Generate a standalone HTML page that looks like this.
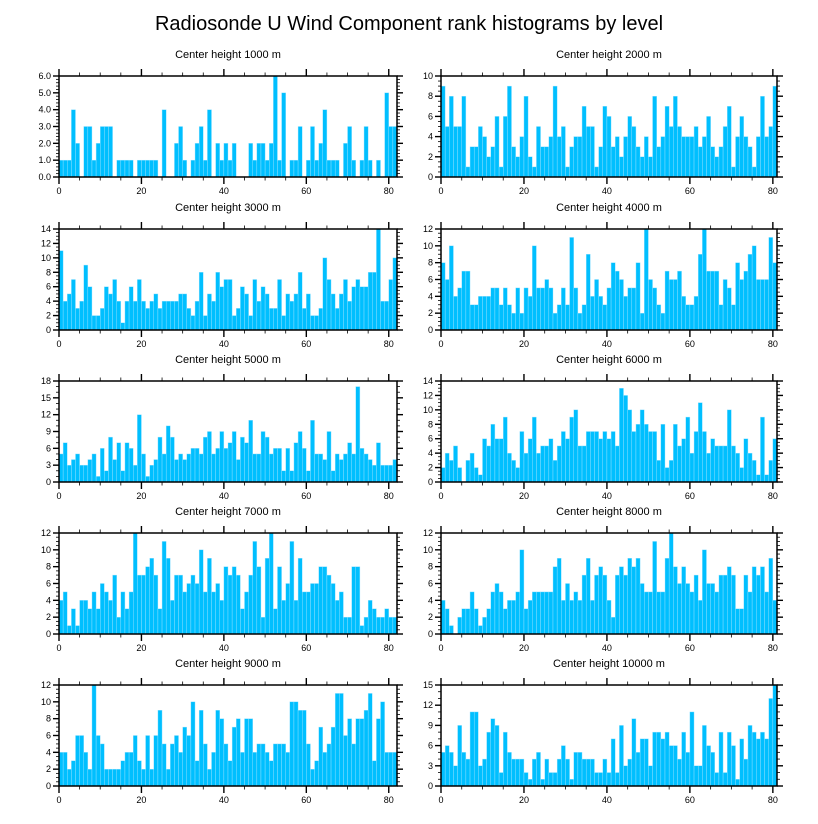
<!DOCTYPE html>
<html><head><meta charset="utf-8"><style>
html,body{margin:0;padding:0;background:#fff;}
svg{display:block;font-family:"Liberation Sans",sans-serif;}
</style></head><body>
<svg id="chart" width="818" height="824" viewBox="0 0 818 824" xmlns="http://www.w3.org/2000/svg">
<text x="409" y="30" font-size="20" text-anchor="middle" fill="#000">Radiosonde U Wind Component rank histograms by level</text>
</svg>
<script>
const panelTitles = ["Center height 1000 m","Center height 2000 m","Center height 3000 m","Center height 4000 m","Center height 5000 m","Center height 6000 m","Center height 7000 m","Center height 8000 m","Center height 9000 m","Center height 10000 m"];
const xTickLabels = [0,20,40,60,80];
const yMax = [6,10,14,12,18,14,12,12,12,15];
const yStep = [1,2,2,2,3,2,2,2,2,3];
const counts1000 = [1,1,1,4,2,0,3,3,1,2,3,3,3,0,1,1,1,1,0,1,1,1,1,1,0,4,0,0,2,3,1,0,1,2,3,1,4,0,2,1,2,1,2,0,0,0,2,1,2,2,1,2,6,1,5,0,1,1,3,0,1,3,1,2,4,1,1,1,0,2,3,1,0,1,3,1,0,1,0,5,3,3];
const counts2000 = [9,5,8,5,5,8,1,3,3,5,4,2,3,6,1,6,9,3,2,4,8,2,1,5,3,3,4,9,4,5,1,3,4,4,7,5,5,1,3,7,6,3,4,2,4,6,5,3,2,4,2,8,3,4,7,5,8,5,4,4,4,5,3,4,6,3,2,3,5,7,1,4,6,4,3,1,4,8,4,5,9];
const counts3000 = [11,4,5,7,3,4,9,6,2,2,3,6,5,7,4,1,4,6,4,7,4,3,4,5,3,4,4,4,4,5,5,3,2,4,8,2,5,4,8,6,7,7,2,3,6,5,2,7,4,6,5,3,3,7,2,5,4,5,8,3,5,2,2,3,10,7,5,3,5,7,4,6,7,6,6,8,8,14,4,4,7,10];
const counts4000 = [8,6,10,4,5,7,7,3,3,4,4,4,5,5,3,5,3,2,5,2,5,4,10,5,5,6,5,2,3,5,3,11,5,2,3,9,4,6,4,3,5,8,7,6,4,5,5,8,2,12,6,5,3,2,7,6,6,7,4,3,3,4,9,12,7,7,7,3,6,5,3,8,6,7,9,10,6,6,6,11,8];
const counts5000 = [5,7,3,4,5,3,3,4,5,1,6,2,8,4,7,2,7,6,3,12,5,1,3,4,8,5,10,8,4,5,4,5,6,6,5,8,9,5,6,9,6,7,9,4,8,7,11,5,5,9,8,5,6,6,2,6,2,7,9,6,2,11,5,5,4,9,2,5,4,5,7,5,17,6,5,4,3,7,3,3,3,4];
const counts6000 = [2,4,3,5,2,0,3,4,2,1,6,5,8,6,6,9,4,3,2,7,4,6,9,4,5,5,6,3,5,7,6,9,10,5,5,7,7,7,6,7,6,7,5,13,12,10,7,8,10,8,7,7,3,8,2,3,8,5,6,9,4,7,11,7,4,6,5,5,5,10,5,4,2,6,4,3,1,9,1,3,6];
const counts7000 = [4,5,1,3,1,4,4,3,5,3,6,5,4,7,2,5,3,5,12,7,7,8,9,7,3,11,9,4,7,7,5,6,7,6,10,5,9,5,6,4,8,7,8,7,3,5,7,11,8,2,9,12,3,8,4,6,11,4,9,5,5,6,6,8,8,7,6,4,5,2,2,8,8,1,2,4,3,2,2,3,2,2];
const counts8000 = [4,3,1,0,2,3,3,5,3,1,2,3,5,6,5,3,4,4,5,10,3,4,5,5,5,5,5,8,9,4,6,4,5,4,7,9,4,7,8,7,4,2,7,8,7,9,8,9,6,5,5,11,5,5,9,12,8,6,8,6,5,7,4,10,6,6,5,7,7,8,7,3,3,7,5,8,7,8,5,9,4];
const counts9000 = [4,4,2,3,6,6,4,2,12,6,5,2,2,2,2,3,4,4,6,3,2,6,2,6,9,5,2,5,6,4,7,6,10,3,9,5,2,4,9,8,5,3,7,8,4,8,8,4,5,5,4,3,5,5,5,4,10,10,9,9,5,2,3,7,4,5,7,11,11,6,8,5,8,8,9,11,3,8,10,4,4,4];
const counts10000 = [5,6,5,3,9,5,4,11,11,3,4,8,10,9,2,8,5,4,4,4,2,1,4,5,1,4,2,2,4,6,4,1,5,5,4,4,4,2,2,4,2,7,2,9,3,4,10,5,7,7,3,8,8,7,8,6,6,4,8,5,11,3,3,9,6,5,2,8,2,8,6,1,7,4,9,8,7,8,7,13,15];
const allCounts = [counts1000,counts2000,counts3000,counts4000,counts5000,counts6000,counts7000,counts8000,counts9000,counts10000];

const NS = "http://www.w3.org/2000/svg";
const svg = document.getElementById("chart");
function mk(tag, attrs, parent){
  const e = document.createElementNS(NS, tag);
  for (const k in attrs) e.setAttribute(k, attrs[k]);
  (parent||svg).appendChild(e);
  return e;
}
const rowTops = [76,229,381,533,685];
const rowH = 101;
const cols = [{x0:59,x1:397,xmax:82},{x0:441,x1:777,xmax:81}];

allCounts.forEach((data, p) => {
  const c = cols[p % 2];
  const top = rowTops[Math.floor(p / 2)];
  const bot = top + rowH;
  const g = mk("g", {});
  
  
  const xs = v => c.x0 + (v / c.xmax) * (c.x1 - c.x0);
  const ys = v => bot - (v / yMax[p]) * rowH;

  const t = mk("text", {x:(c.x0 + c.x1) / 2, y: top - 18, "font-size": 11, "text-anchor": "middle", fill: "#000"}, g);
  t.textContent = panelTitles[p];
  
  

  data.forEach((v, i) => {
    if (i >= c.xmax || v <= 0) return;
    const y = ys(Math.min(v, yMax[p]));
    const r = mk("rect", {x: xs(i), y: y, width: xs(i + 1) - xs(i), height: bot - y, fill: "#00bfff", stroke: "#9fe3ff", "stroke-width": 0.4}, g);
    
    
  });

  const fr = mk("rect", {x: c.x0, y: top, width: c.x1 - c.x0, height: rowH, fill: "none", stroke: "#000", "stroke-width": 1.5}, g);
  
  

  // x ticks (top and bottom), major every 20, minor every 5
  for (let v = 0; v <= c.xmax; v += 5) {
    const major = v % 20 === 0;
    const L = major ? 7 : 3.5;
    const x = xs(v);
    mk("line", {x1: x, x2: x, y1: bot, y2: bot + L, stroke: "#000", "stroke-width": major ? 1.4 : 0.8}, g);
    mk("line", {x1: x, x2: x, y1: top, y2: top - L, stroke: "#000", "stroke-width": major ? 1.4 : 0.8}, g);
  }
  xTickLabels.forEach(v => {
    const tl = mk("text", {x: xs(v), y: bot + 17, "font-size": 9, "text-anchor": "middle", fill: "#000"}, g);
    tl.textContent = v;
    
    
  });

  // y ticks (left and right)
  const minor = yStep[p] / (yStep[p] === 3 ? 3 : (yStep[p] === 1 ? 5 : 4));
  for (let k = 0; k * minor <= yMax[p] + 1e-9; k++) {
    const v = k * minor;
    const major = Math.abs(v / yStep[p] - Math.round(v / yStep[p])) < 1e-6;
    const L = major ? 6 : 3;
    const y = ys(v);
    mk("line", {x1: c.x0, x2: c.x0 - L, y1: y, y2: y, stroke: "#000", "stroke-width": major ? 1.4 : 0.8}, g);
    mk("line", {x1: c.x1, x2: c.x1 + L, y1: y, y2: y, stroke: "#000", "stroke-width": major ? 1.4 : 0.8}, g);
  }
  for (let v = 0; v <= yMax[p]; v += yStep[p]) {
    const yl = mk("text", {x: c.x0 - 8, y: ys(v) + 3, "font-size": 9, "text-anchor": "end", fill: "#000"}, g);
    yl.textContent = p === 0 ? v.toFixed(1) : v;
    
    
  }
});
</script>
</body></html>
